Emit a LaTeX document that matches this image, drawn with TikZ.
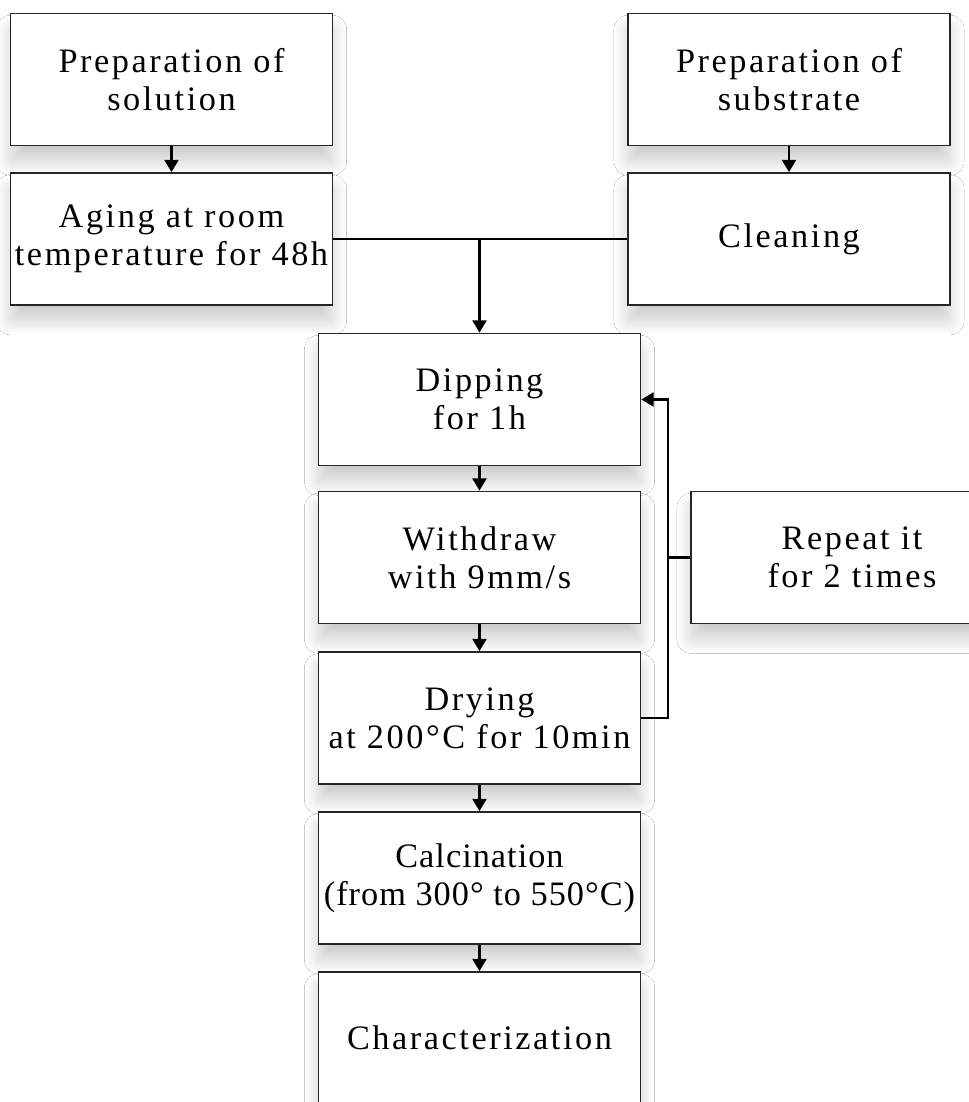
\documentclass[tikz,border=0pt]{standalone}
\usepackage{fontspec}
\setmainfont[LetterSpace=7.5]{Liberation Serif}
\usetikzlibrary{arrows.meta,shadows.blur}

\begin{document}
\begin{tikzpicture}[x=0.02cm, y=-0.02cm,
        box/.style={draw=black!85, line width=1pt, fill=white, align=center,
                    minimum width=6.44cm, minimum height=2.64cm, inner sep=1pt,
                    font=\fontsize{19.5}{21.6}\selectfont,
                    blur shadow={shadow xshift=0pt, shadow yshift=-9pt,
                                 shadow blur radius=8pt, shadow blur steps=30,
                                 shadow opacity=20}},
        flow/.style={line width=1.2pt, -{Triangle[length=7pt, width=8pt]}},
        link/.style={line width=1.2pt}]
    \clip (0,0) rectangle (969,1102);
    \fill[white] (0,0) rectangle (969,1102);
    % Nodes
    \node[box] (sol) at (171.5,79.5) {Preparation of\\solution};
    \node[box] (age) at (171.5,239) {Aging at room\\temperature for 48h};
    \node[box] (sub) at (789,79.5) {Preparation of\\substrate};
    \node[box] (clean) at (789,239) {Cleaning};
    \node[box] (dip) at (479.5,399.5) {Dipping\\for 1h};
    \node[box] (wd) at (479.5,557.5) {Withdraw\\with 9mm/s};
    \node[box] (dry) at (479.5,718) {Drying\\at 200°C for 10min};
    \node[box] (calc) at (479.5,878) {\addfontfeature{LetterSpace=3}Calcination\\
        \addfontfeature{LetterSpace=3}(from 300° to 550°C)};
    \node[box] (char) at (479.5,1038) {Characterization};
    \node[box] (rep) at (852,557.5) {Repeat it\\for 2 times};
    \coordinate (mix) at (dip.north |- age.east);
    \coordinate (lp) at (668,557.5);
    % Edges
    \draw[flow] (sol) -- (age);
    \draw[flow] (sub) -- (clean);
    \draw[link] (age.east) -- (clean.west);
    \draw[flow] (mix) -- (dip);
    \draw[flow] (dip) -- (wd);
    \draw[flow] (wd) -- (dry);
    \draw[flow] (dry) -- (calc);
    \draw[flow] (calc) -- (char);
    % Repeat loop
    \draw[flow] (dry.east) -- (dry.east -| lp) |- (dip.east);
    \draw[link] (lp) -- (rep.west);
\end{tikzpicture}
\end{document}
